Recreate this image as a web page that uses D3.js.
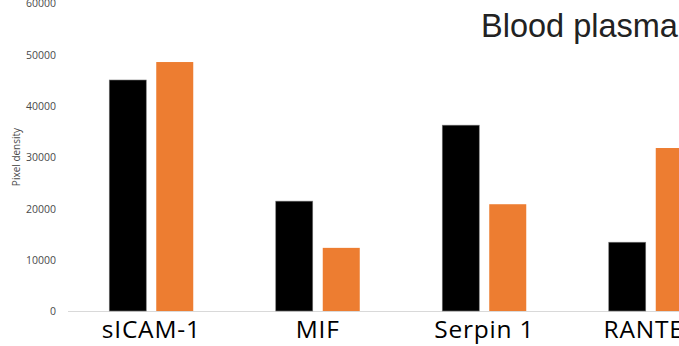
<!DOCTYPE html>
<html>
<head>
<meta charset="utf-8">
<script src="https://cdn.jsdelivr.net/npm/d3@7"></script>
<style>
  html, body { margin: 0; padding: 0; background: #fff; overflow: hidden; }
  svg { display: block; }
</style>
</head>
<body>
<svg id="chart" width="679" height="346"></svg>
<script>
// Protein array pixel densities, two groups per cytokine
const categories = ["sICAM-1", "MIF", "Serpin 1", "RANTES"];
const seriesA = [45000, 21400, 36200, 13400];   // black bars
const seriesB = [48500, 12300, 20800, 31750];   // orange bars
const yTicks = [0, 10000, 20000, 30000, 40000, 50000, 60000];
const title = "Blood plasma";
const yLabel = "Pixel density";

const svg = d3.select("#chart");
const left = 68, bandW = 166.5;
const x = d3.scaleBand().domain(categories).range([left, left + bandW * categories.length]).padding(0);
const y = d3.scaleLinear().domain([0, 60000]).range([311, 3]);

// y axis: labels only
const yAxis = d3.axisLeft(y).tickValues(yTicks).tickSize(0).tickPadding(0).tickFormat(d3.format("d"));
const ga = svg.append("g").attr("transform", "translate(56,0)").call(yAxis);
ga.select(".domain").remove();
ga.selectAll("text").attr("font-family", "'Open Sans', sans-serif").attr("font-size", 10.5).attr("fill", "#4a4a4a").attr("dy", "0.35em");

// baseline
svg.append("line").attr("x1", left).attr("x2", 679).attr("y1", y(0) + 0.5).attr("y2", y(0) + 0.5)
  .attr("stroke", "#d9d9d9").attr("stroke-width", 1);

// bars
const barW = 37, gap = 10;
const groups = svg.append("g").selectAll("g").data(categories).join("g")
  .attr("transform", d => `translate(${x(d) + x.bandwidth() / 2},0)`);
groups.append("rect")
  .attr("x", -(barW + gap / 2)).attr("width", barW)
  .attr("y", (d, i) => y(seriesA[i])).attr("height", (d, i) => y(0) - y(seriesA[i]))
  .attr("fill", "#000").attr("stroke", "#777").attr("stroke-width", 0.6);
groups.append("rect")
  .attr("x", gap / 2).attr("width", barW)
  .attr("y", (d, i) => y(seriesB[i])).attr("height", (d, i) => y(0) - y(seriesB[i]))
  .attr("fill", "#ED7D31");

// category labels
const xAxis = d3.axisBottom(x).tickSize(0).tickPadding(0);
const gx = svg.append("g").attr("transform", "translate(0,311)").call(xAxis);
gx.select(".domain").remove();
gx.selectAll("text").attr("font-family", "'Open Sans', sans-serif").attr("font-size", 24.5)
  .attr("letter-spacing", "0.8px").attr("fill", "#000").attr("dy", "1.12em");

// y label
svg.append("text").attr("transform", "translate(20,157) rotate(-90)")
  .attr("text-anchor", "middle").attr("font-family", "'Open Sans', sans-serif").attr("font-size", 10)
  .attr("fill", "#4a4a4a").text(yLabel);

// title
svg.append("text").attr("x", 481).attr("y", 37)
  .attr("font-family", "'Liberation Sans', Arial, sans-serif").attr("font-size", 32.5)
  .attr("fill", "#222").text(title);
</script>
</body>
</html>
